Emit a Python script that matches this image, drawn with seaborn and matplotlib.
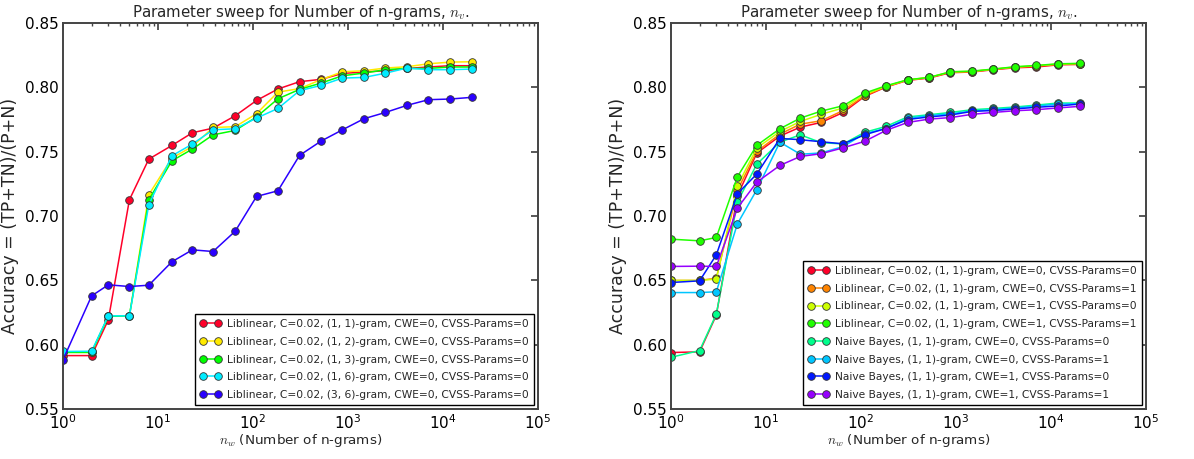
import numpy as np
import pandas as pd
import matplotlib
matplotlib.use("Agg")
import matplotlib.pyplot as plt
import seaborn as sns

# ---------------- data ----------------
n_grams = [1, 2, 3, 5, 8, 14, 23, 38, 65, 109, 183, 309, 520, 875, 1473, 2480, 4176, 7033, 11842, 20000]

left_labels = [
    "Liblinear, C=0.02, (1, 1)-gram, CWE=0, CVSS-Params=0",
    "Liblinear, C=0.02, (1, 2)-gram, CWE=0, CVSS-Params=0",
    "Liblinear, C=0.02, (1, 3)-gram, CWE=0, CVSS-Params=0",
    "Liblinear, C=0.02, (1, 6)-gram, CWE=0, CVSS-Params=0",
    "Liblinear, C=0.02, (3, 6)-gram, CWE=0, CVSS-Params=0",
]
left_11 = [0.5915, 0.5915, 0.6193, 0.7126, 0.7442, 0.7548, 0.7647, 0.7683, 0.7779, 0.7898,
           0.7987, 0.8044, 0.8062, 0.8108, 0.8119, 0.8129, 0.8147, 0.8158, 0.8168, 0.8168]
left_12 = [0.5940, 0.5940, 0.6224, 0.6224, 0.7165, 0.7450, 0.7540, 0.7688, 0.7694, 0.7795,
           0.7963, 0.7990, 0.8060, 0.8121, 0.8129, 0.8150, 0.8160, 0.8183, 0.8196, 0.8199]
left_13 = [0.5940, 0.5940, 0.6220, 0.6224, 0.7126, 0.7429, 0.7520, 0.7631, 0.7665, 0.7770,
           0.7911, 0.7984, 0.8033, 0.8090, 0.8111, 0.8137, 0.8147, 0.8147, 0.8158, 0.8158]
left_16 = [0.5947, 0.5949, 0.6224, 0.6224, 0.7087, 0.7468, 0.7559, 0.7670, 0.7678, 0.7761,
           0.7836, 0.7974, 0.8015, 0.8072, 0.8077, 0.8110, 0.8150, 0.8137, 0.8137, 0.8142]
left_36 = [0.5882, 0.6379, 0.6465, 0.6452, 0.6462, 0.6644, 0.6737, 0.6724, 0.6882, 0.7152,
           0.7196, 0.7471, 0.7582, 0.7670, 0.7756, 0.7805, 0.7860, 0.7904, 0.7909, 0.7922]

right_labels = [
    "Liblinear, C=0.02, (1, 1)-gram, CWE=0, CVSS-Params=0",
    "Liblinear, C=0.02, (1, 1)-gram, CWE=0, CVSS-Params=1",
    "Liblinear, C=0.02, (1, 1)-gram, CWE=1, CVSS-Params=0",
    "Liblinear, C=0.02, (1, 1)-gram, CWE=1, CVSS-Params=1",
    "Naive Bayes, (1, 1)-gram, CWE=0, CVSS-Params=0",
    "Naive Bayes, (1, 1)-gram, CWE=0, CVSS-Params=1",
    "Naive Bayes, (1, 1)-gram, CWE=1, CVSS-Params=0",
    "Naive Bayes, (1, 1)-gram, CWE=1, CVSS-Params=1",
]
lib_00 = [0.5939, 0.5944, 0.6230, 0.7157, 0.7489, 0.7621, 0.7691, 0.7727, 0.7805, 0.7929,
          0.8002, 0.8054, 0.8072, 0.8114, 0.8119, 0.8137, 0.8152, 0.8158, 0.8175, 0.8178]
lib_01 = [0.6499, 0.6499, 0.6517, 0.7200, 0.7502, 0.7636, 0.7714, 0.7740, 0.7820, 0.7935,
          0.8005, 0.8057, 0.8075, 0.8118, 0.8122, 0.8140, 0.8156, 0.8165, 0.8179, 0.8183]
lib_10 = [0.6499, 0.6499, 0.6510, 0.7235, 0.7528, 0.7657, 0.7735, 0.7790, 0.7840, 0.7945,
          0.8008, 0.8057, 0.8077, 0.8120, 0.8124, 0.8141, 0.8158, 0.8168, 0.8181, 0.8185]
lib_11 = [0.6820, 0.6807, 0.6833, 0.7305, 0.7549, 0.7678, 0.7761, 0.7815, 0.7857, 0.7955,
          0.8012, 0.8059, 0.8077, 0.8121, 0.8126, 0.8142, 0.8160, 0.8170, 0.8183, 0.8186]
nb_00 = [0.5902, 0.5954, 0.6237, 0.7108, 0.7403, 0.7574, 0.7631, 0.7570, 0.7560, 0.7650,
         0.7696, 0.7770, 0.7787, 0.7805, 0.7826, 0.7836, 0.7847, 0.7862, 0.7878, 0.7878]
nb_01 = [0.6405, 0.6405, 0.6411, 0.6939, 0.7204, 0.7574, 0.7480, 0.7490, 0.7540, 0.7640,
         0.7680, 0.7760, 0.7780, 0.7795, 0.7815, 0.7828, 0.7840, 0.7855, 0.7870, 0.7873]
nb_10 = [0.6483, 0.6496, 0.6698, 0.7173, 0.7326, 0.7603, 0.7593, 0.7577, 0.7561, 0.7631,
         0.7680, 0.7750, 0.7770, 0.7785, 0.7813, 0.7820, 0.7832, 0.7845, 0.7855, 0.7870]
nb_11 = [0.6608, 0.6610, 0.6608, 0.7061, 0.7263, 0.7393, 0.7463, 0.7484, 0.7530, 0.7580,
         0.7665, 0.7727, 0.7753, 0.7765, 0.7790, 0.7805, 0.7818, 0.7826, 0.7840, 0.7852]

left_series = [left_11, left_12, left_13, left_16, left_36]
right_series = [lib_00, lib_01, lib_10, lib_11, nb_00, nb_01, nb_10, nb_11]

y_ticks = [0.55, 0.60, 0.65, 0.70, 0.75, 0.80, 0.85]
title = "Parameter sweep for Number of n-grams, $n_v$."
xlabel = "$n_w$ (Number of n-grams)"
ylabel = "Accuracy = (TP+TN)/(P+N)"

# ---------------- style ----------------
sns.set_theme(style="white")
plt.rcParams.update({
    "font.family": ["DejaVu Sans"],
    "mathtext.fontset": "cm",
    "axes.edgecolor": "#444444",
    "axes.linewidth": 1.4,
    "xtick.direction": "in",
    "ytick.direction": "in",
    "xtick.top": True,
    "ytick.right": True,
    "xtick.major.size": 5,
    "ytick.major.size": 5,
    "xtick.minor.size": 2.5,
    "ytick.minor.size": 2.5,
    "xtick.minor.visible": True,
    "xtick.color": "#444444",
    "ytick.color": "#444444",
    "xtick.labelcolor": "black",
    "ytick.labelcolor": "black",
})

fig = plt.figure(figsize=(11.94, 4.59), dpi=100)
ax1 = fig.add_axes([63 / 1194, 50 / 459, 475 / 1194, 386 / 459])
ax2 = fig.add_axes([671 / 1194, 50 / 459, 475 / 1194, 386 / 459])


def build_df(labels, series):
    rows = []
    for lab, vals in zip(labels, series):
        for x, v in zip(n_grams, vals):
            rows.append((lab, x, v))
    return pd.DataFrame(rows, columns=["series", "n", "acc"])


def draw(ax, labels, series, colors):
    df = build_df(labels, series)
    for lab, col in zip(labels, colors):
        sub = df[df["series"] == lab]
        sns.lineplot(data=sub, x="n", y="acc", ax=ax, color=col, marker="o",
                     markersize=5.5, markeredgecolor="#333333", markeredgewidth=0.6,
                     linewidth=1.1, label=lab, errorbar=None, sort=False)
    ax.set_xscale("log")
    ax.set_xlim(1, 1e5)
    ax.set_ylim(0.55, 0.85)
    ax.set_yticks(y_ticks)
    ax.set_yticklabels([f"{t:.2f}" for t in y_ticks])
    ax.set_xticks([1, 10, 100, 1000, 10000, 100000])
    ax.tick_params(axis="both", which="major", labelsize=11, pad=3)
    ax.set_title(title, fontsize=10.8, pad=4)
    ax.set_xlabel(xlabel, fontsize=9.7, labelpad=0)
    ax.set_ylabel(ylabel, fontsize=12.5, labelpad=4)
    for s in ax.spines.values():
        s.set_visible(True)
    h, l = ax.get_legend_handles_labels()
    leg = ax.legend(h, l, loc="lower right", numpoints=2, fontsize=7.7,
                    frameon=True, fancybox=False, framealpha=1,
                    edgecolor="black", handlelength=2.0, borderpad=0.45,
                    labelspacing=0.72, handletextpad=0.6, borderaxespad=0.4)
    leg.get_frame().set_linewidth(1.0)


cmap = plt.get_cmap("gist_rainbow")
left_colors = [cmap(i / 5) for i in range(5)]
right_colors = [cmap(i / 8) for i in range(8)]

draw(ax1, left_labels, left_series, left_colors)
draw(ax2, right_labels, right_series, right_colors)

fig.savefig("out.png", dpi=100)
